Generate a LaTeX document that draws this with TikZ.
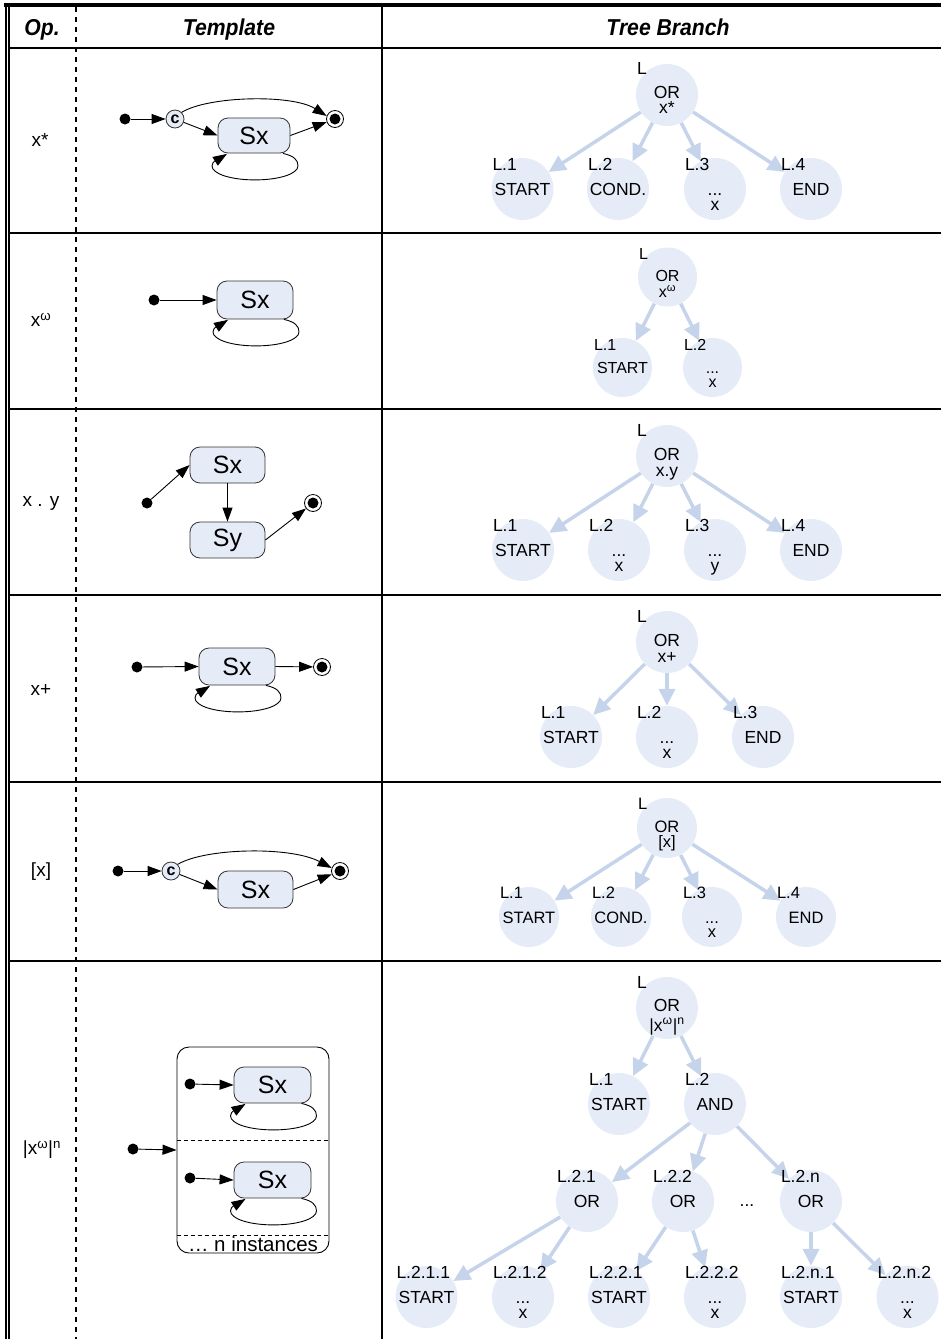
\documentclass[tikz,border=0pt]{standalone}
\usepackage{fontspec}
\usepackage{graphicx}
\usetikzlibrary{arrows.meta,calc}
\newfontfamily\arial{Liberation Sans}
\definecolor{nodeblue}{HTML}{E6ECF7}
\definecolor{edgeblue}{HTML}{C5D4EA}
\definecolor{boxline}{HTML}{333333}
\pgfdeclarelayer{bg}
\pgfsetlayers{bg,main}
\newcommand\tfs{17.5}
\newcommand\tdiam{62}
\newcommand\tla{6}
\newcommand\tlb{21}
\newcommand\tlo{-19}
\newcommand\hdr[1]{\scalebox{0.92}[1]{#1}}
\newcommand\tnode[5]{%
  \node[tc] (#1) at (#2) {};
  \node[tt, anchor=base west] (#1-l) at ($(#1.west)+(1,\tlo)$) {#3};
  \node[tt] (#1-1) at ($(#1.center)+(0,\tla)$) {#4};
  \if\relax\detokenize{#5}\relax\else
    \node[tt] (#1-2) at ($(#1.center)+(0,\tlb)$) {#5};\fi}
\newcommand\sxloop[1]{%
  \draw[tarr] ($(#1.south)+(29,0)$) .. controls ($(#1.south)+(40,2.5)$) and ($(#1.south)+(44,6.5)$) .. ($(#1.south)+(44,12.5)$)
    .. controls ($(#1.south)+(44,20.5)$) and ($(#1.south)+(25,26.5)$) .. ($(#1.south)+(1,26.5)$)
    .. controls ($(#1.south)+(-23,26.5)$) and ($(#1.south)+(-42,20.5)$) .. ($(#1.south)+(-42,12.5)$)
    .. controls ($(#1.south)+(-42,7.5)$) and ($(#1.south)+(-35,5.5)$) .. ($(#1.south)+(-27,0.5)$);}
\begin{document}
\begin{tikzpicture}[x=1pt,y=-1pt,
  tc/.style={circle, fill=nodeblue, draw=none, minimum size=\tdiam pt, inner sep=0pt},
  tt/.style={font={\arial\fontsize{\tfs}{\tfs}\selectfont}, inner sep=0pt, anchor=base},
  te/.style={draw=edgeblue, line width=3.5pt, -{Triangle[length=17pt,width=16pt]}},
  hd/.style={font={\arial\bfseries\itshape\fontsize{23}{23}\selectfont}, inner sep=0pt, anchor=base},
  opl/.style={font={\arial\fontsize{19}{19}\selectfont}, inner sep=0pt},
  ist/.style={circle, fill=black, minimum size=11pt, inner sep=0pt},
  fst/.style={circle, draw=black, fill=white, line width=0.8pt, minimum size=17pt, inner sep=0pt,
    path picture={\fill[black] (path picture bounding box.center) circle[radius=5.5pt];}},
  cst/.style={circle, draw=boxline, fill=nodeblue, line width=0.8pt, minimum size=18pt, inner sep=0pt,
    font={\arial\bfseries\fontsize{16}{16}\selectfont}},
  sbox/.style={rectangle, rounded corners=10pt, draw=boxline, fill=nodeblue, line width=0.8pt,
    minimum width=75pt, minimum height=37pt, inner sep=0pt, font={\arial\fontsize{25}{25}\selectfont}},
  tarr/.style={draw=black, line width=0.9pt, -{Triangle[length=14pt,width=10pt]}},
  cont/.style={rectangle, rounded corners=12pt, draw=black, line width=0.9pt, inner sep=0pt,
    minimum width=152pt, minimum height=206pt}
]
\useasboundingbox (0,0) rectangle (941,1339);

% ---------- table frame ----------
\draw[line width=3.5pt] (4,5) -- (941,5);
\draw[line width=1.7pt] (5.8,3.5) -- (5.8,1339);
\draw[line width=1.7pt] (9.2,3.5) -- (9.2,1339);
\foreach \yy in {48,233,409,595,782,961} \draw[line width=2pt] (9.2,\yy) -- (941,\yy);
\draw[line width=2pt] (382,6) -- (382,1339);
\draw[line width=1.8pt, dash pattern=on 5pt off 5pt] (76,7) -- (76,1339);

% ---------- header ----------
\node[hd] (hop) at (42,35.5) {\hdr{Op.}};
\node[hd] (htp) at (229,35.5) {\hdr{Template}};
\node[hd] (htb) at (668,35.5) {\hdr{Tree Branch}};

% ---------- Op column ----------
\node[opl] (op1) at (40,140) {x*};
\node[opl] (op2) at (41,320) {x\textsuperscript{ω}};
\node[opl] (op3) at (41,503) {x . y};
\node[opl] (op4) at (41,690) {x+};
\node[opl] (op5) at (41,872) {[x]};
\node[opl] (op6) at (42,1150) {|x\textsuperscript{ω}|\textsuperscript{n}};

% ---------- Templates ----------
% row 1: x*
\node[ist] (i1) at (125,119) {};
\node[cst] (c1) at (175,119) {c};
\node[sbox, minimum width=72pt, minimum height=35pt] (s1) at (254,135.5) {Sx};
\node[fst] (f1) at (335,119) {};
\draw[tarr] (i1) -- (c1);
\draw[tarr] (c1) -- (s1.west);
\draw[tarr] (s1.east) -- (f1);
\draw[tarr] (c1.north east) .. controls (208,96) and (292,94) .. (f1.160);
\sxloop{s1}

% row 2: x^w
\node[ist] (i2) at (154,300) {};
\node[sbox, minimum width=76pt, minimum height=38pt] (s2) at (255,300) {Sx};
\draw[tarr] (i2) -- (s2.west);
\sxloop{s2}

% row 3: x . y
\node[ist] (i3) at (147,503) {};
\node[sbox, minimum height=36pt] (s3x) at (227.5,465) {Sx};
\node[sbox, minimum height=36pt] (s3y) at (227.5,540) {Sy};
\node[fst] (f3) at (313,503) {};
\draw[tarr] (i3) -- (s3x.west);
\draw[tarr] (s3x.south) -- (s3y.north);
\draw[tarr] (s3y.east) -- (f3);

% row 4: x+
\node[ist] (i4) at (137,667) {};
\node[sbox, minimum width=76pt] (s4) at (237,666.5) {Sx};
\node[fst] (f4) at (322,667) {};
\draw[tarr] (i4) -- (s4.west);
\draw[tarr] (s4.east) -- (f4);
\sxloop{s4}

% row 5: [x]
\node[ist] (i5) at (118,871) {};
\node[cst] (c5) at (171,871) {c};
\node[sbox] (s5) at (255.5,889.5) {Sx};
\node[fst] (f5) at (340,871) {};
\draw[tarr] (i5) -- (c5);
\draw[tarr] (c5) -- (s5.west);
\draw[tarr] (s5.east) -- (f5);
\draw[tarr] (c5.north east) .. controls (205,848) and (290,846) .. (f5.160);

% row 6: |x^w|^n
\node[cont] (k6) at (253,1150) {};
\draw[line width=0.8pt, dash pattern=on 4pt off 3pt] ($(k6.north west)+(0,94)$) -- ($(k6.north east)+(0,94)$);
\draw[line width=0.8pt, dash pattern=on 4pt off 3pt] ($(k6.north west)+(0,189)$) -- ($(k6.north east)+(0,189)$);
\node[font={\arial\fontsize{20.5}{20.5}\selectfont}, inner sep=0pt, anchor=base] (n6) at (253,1251) {… n instances};
\node[ist] (i6) at (133,1149) {};
\draw[tarr] (i6) -- (k6.west);
\node[ist] (i6a) at (190,1084) {};
\node[sbox, minimum width=77pt, minimum height=36pt] (s6a) at (272.5,1085) {Sx};
\draw[tarr] (i6a) -- (s6a.west);
\sxloop{s6a}
\node[ist] (i6b) at (190,1178) {};
\node[sbox, minimum width=77pt, minimum height=36pt] (s6b) at (272.5,1180) {Sx};
\draw[tarr] (i6b) -- (s6b.west);
\sxloop{s6b}

% ---------- Trees ----------
% row 1
\renewcommand\tla{3}\renewcommand\tlb{18}\renewcommand\tlo{-21}
\tnode{r1}{667,95}{L}{OR}{x*}
\renewcommand\tla{6}\renewcommand\tlb{21}\renewcommand\tlo{-19}
\tnode{r1a}{522.5,189}{L.1}{START}{}
\tnode{r1b}{618,189}{L.2}{COND.}{}
\tnode{r1c}{715,189}{L.3}{...}{x}
\tnode{r1d}{811,189}{L.4}{END}{}
\begin{pgfonlayer}{bg}
\foreach \c in {r1a,r1b,r1c,r1d} \draw[te] (r1) -- (\c);
\end{pgfonlayer}

% row 2
\renewcommand\tfs{16}\renewcommand\tdiam{59}
\renewcommand\tla{4}\renewcommand\tlb{20.5}\renewcommand\tlo{-18}
\tnode{r2}{667.5,277}{L}{OR}{x\textsuperscript{ω}}
\renewcommand\tla{5.5}\renewcommand\tlb{19.5}\renewcommand\tlo{-17.5}
\tnode{r2a}{622.5,367.5}{L.1}{START}{}
\tnode{r2b}{712.5,367.5}{L.2}{...}{x}
\begin{pgfonlayer}{bg}
\foreach \c in {r2a,r2b} \draw[te] (r2) -- (\c);
\end{pgfonlayer}

% row 3
\renewcommand\tfs{17.5}\renewcommand\tdiam{62}
\renewcommand\tla{4}\renewcommand\tlb{20}\renewcommand\tlo{-20}
\tnode{r3}{667,456}{L}{OR}{x.y}
\renewcommand\tla{6}\renewcommand\tlb{21}\renewcommand\tlo{-19}
\tnode{r3a}{523,550}{L.1}{START}{}
\tnode{r3b}{619,550}{L.2}{...}{x}
\tnode{r3c}{715,550}{L.3}{...}{y}
\tnode{r3d}{811,550}{L.4}{END}{}
\begin{pgfonlayer}{bg}
\foreach \c in {r3a,r3b,r3c,r3d} \draw[te] (r3) -- (\c);
\end{pgfonlayer}

% row 4
\renewcommand\tla{4}\renewcommand\tlb{20}\renewcommand\tlo{-20}
\tnode{r4}{667,642}{L}{OR}{x+}
\renewcommand\tla{6}\renewcommand\tlb{21}\renewcommand\tlo{-19}
\tnode{r4a}{571,737}{L.1}{START}{}
\tnode{r4b}{667,737}{L.2}{...}{x}
\tnode{r4c}{763,737}{L.3}{END}{}
\begin{pgfonlayer}{bg}
\foreach \c in {r4a,r4b,r4c} \draw[te] (r4) -- (\c);
\end{pgfonlayer}

% row 5
\renewcommand\tfs{16.5}\renewcommand\tdiam{60}
\renewcommand\tla{4}\renewcommand\tlb{19}\renewcommand\tlo{-19}
\tnode{r5}{667,828}{L}{OR}{[x]}
\renewcommand\tla{6}\renewcommand\tlb{20}\renewcommand\tlo{-18.5}
\tnode{r5a}{529,917}{L.1}{START}{}
\tnode{r5b}{621,917}{L.2}{COND.}{}
\tnode{r5c}{712,917}{L.3}{...}{x}
\tnode{r5d}{806,917}{L.4}{END}{}
\begin{pgfonlayer}{bg}
\foreach \c in {r5a,r5b,r5c,r5d} \draw[te] (r5) -- (\c);
\end{pgfonlayer}

% row 6
\renewcommand\tfs{17.5}\renewcommand\tdiam{62}
\renewcommand\tla{3.5}\renewcommand\tlb{23}\renewcommand\tlo{-20}
\tnode{r6}{667,1008}{L}{OR}{|x\textsuperscript{ω}|\textsuperscript{n}}
\renewcommand\tla{6}\renewcommand\tlb{21}\renewcommand\tlo{-19}
\tnode{r6a}{619,1104}{L.1}{START}{}
\tnode{r6b}{715,1104}{L.2}{AND}{}
\tnode{r6c}{587,1201}{L.2.1}{OR}{}
\tnode{r6d}{683,1201}{L.2.2}{OR}{}
\tnode{r6e}{811,1201}{L.2.n}{OR}{}
\node[tt] (r6dots) at (747,1206) {...};
\tnode{r6f}{426.5,1297}{L.2.1.1}{START}{}
\tnode{r6g}{523,1297}{L.2.1.2}{...}{x}
\tnode{r6h}{619,1297}{L.2.2.1}{START}{}
\tnode{r6i}{715,1297}{L.2.2.2}{...}{x}
\tnode{r6j}{811,1297}{L.2.n.1}{START}{}
\tnode{r6k}{907.5,1297}{L.2.n.2}{...}{x}
\begin{pgfonlayer}{bg}
\draw[te] (r6) -- (r6a);
\draw[te] (r6) -- (r6b);
\foreach \c in {r6c,r6d,r6e} \draw[te] (r6b) -- (\c);
\draw[te] (r6c) -- (r6f);
\draw[te] (r6c) -- (r6g);
\draw[te] (r6d) -- (r6h);
\draw[te] (r6d) -- (r6i);
\draw[te] (r6e) -- (r6j);
\draw[te] (r6e) -- (r6k);
\end{pgfonlayer}
\end{tikzpicture}
\end{document}
